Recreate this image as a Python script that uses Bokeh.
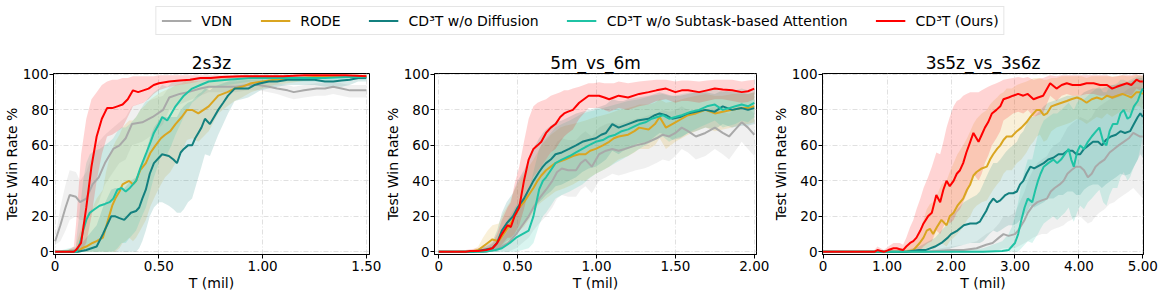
from bokeh.plotting import figure
from bokeh.layouts import column, row
from bokeh.models import Range1d, FixedTicker, Legend, LegendItem, CustomJSTickFormatter
from bokeh.embed import file_html
from bokeh.resources import INLINE

FONT = "DejaVu Sans"
SERIES = ["VDN", "RODE", "CD³T w/o Diffusion", "CD³T w/o Subtask-based Attention", "CD³T (Ours)"]
COLORS = ["#a9a9a9", "#daa520", "#13807f", "#1fc3a5", "#ff0000"]
TITLES = ["2s3z", "5m_vs_6m", "3s5z_vs_3s6z"]
Y_TICKS = [0, 20, 40, 60, 80, 100]
X_TICKS_2s3z = [0, 0.5, 1.0, 1.5]
X_TICKS_5m = [0, 0.5, 1.0, 1.5, 2.0]
X_TICKS_3s5z = [0, 1, 2, 3, 4, 5]

# rows: (T in mil, mean win rate, lower band, upper band)
vdn_2s3z = [(0, 6, 4, 8), (0.025, 15, 6, 25), (0.05, 25, 12, 38), (0.07, 32, 18, 46), (0.1, 31, 20, 45),
            (0.12, 28, 18, 40), (0.15, 30, 18, 45), (0.18, 38, 22, 55), (0.21, 42, 28, 62), (0.24, 50, 38, 66),
            (0.28, 58, 45, 70), (0.31, 60, 50, 73), (0.34, 64, 52, 76), (0.37, 72, 60, 82), (0.42, 73, 62, 84),
            (0.47, 76, 66, 86), (0.52, 80, 72, 88), (0.55, 87, 80, 93), (0.6, 89, 83, 94), (0.64, 90, 85, 95),
            (0.7, 92, 88, 96), (0.74, 93, 90, 96), (0.8, 93, 90, 96), (0.87, 93, 90, 96), (0.93, 94, 91, 97),
            (0.98, 94, 91, 97), (1.03, 93, 90, 96), (1.07, 92, 89, 95), (1.12, 91, 87, 94), (1.15, 90, 86, 93),
            (1.2, 91, 87, 94), (1.26, 92, 88, 95), (1.3, 92, 88, 95), (1.34, 93, 89, 96), (1.38, 92, 88, 95),
            (1.42, 91, 87, 94), (1.46, 91, 87, 94), (1.5, 91, 87, 94)]
rode_2s3z = [(0, 0, 0, 0), (0.1, 0, 0, 2), (0.103, 0, 0, 5), (0.13, 2, 0, 15), (0.15, 3, 0, 20), (0.18, 5, 0, 25),
             (0.2, 6, 0, 30), (0.23, 8, 0, 35), (0.245, 14, 0, 45), (0.26, 20, 0, 52), (0.275, 26, 0, 58),
             (0.29, 30, 0, 62), (0.31, 34, 2, 66), (0.325, 38, 5, 70), (0.34, 39, 6, 72), (0.357, 40, 8, 74),
             (0.375, 38, 6, 74), (0.39, 40, 8, 76), (0.41, 46, 12, 80), (0.437, 50, 18, 83), (0.46, 56, 26, 86),
             (0.484, 60, 32, 88), (0.51, 64, 38, 90), (0.53, 66, 42, 91), (0.555, 68, 45, 92), (0.58, 72, 50, 94),
             (0.61, 76, 57, 95), (0.635, 80, 63, 97), (0.66, 80, 64, 97), (0.69, 78, 62, 96), (0.74, 82, 68, 97),
             (0.786, 88, 78, 98), (0.83, 90, 82, 98.5), (0.865, 92, 85, 99), (0.9, 93, 87, 99), (0.944, 95, 90, 99.5),
             (1.0, 96, 92, 99.5), (1.056, 97, 94, 99.5), (1.12, 97.5, 95, 99.5), (1.18, 98, 96, 99.5),
             (1.3, 99, 98, 100), (1.4, 99, 98, 100), (1.5, 99, 98, 100)]
nodiff_2s3z = [(0, 0, 0, 0), (0.11, 0, 0, 2), (0.15, 1, 0, 8), (0.2, 3, 0, 15), (0.23, 10, 0, 25), (0.25, 15, 0, 30),
               (0.27, 20, 0, 35), (0.29, 20, 0, 36), (0.31, 19, 0, 36), (0.333, 18, 0, 36), (0.365, 22, 0, 40),
               (0.39, 23, 0, 42), (0.405, 25, 2, 45), (0.42, 30, 6, 50), (0.437, 35, 12, 56), (0.456, 44, 20, 64),
               (0.476, 50, 25, 70), (0.5, 53, 28, 74), (0.516, 55, 28, 76), (0.548, 54, 26, 76), (0.57, 52, 24, 76),
               (0.587, 50, 22, 76), (0.605, 56, 22, 80), (0.62, 58, 24, 82), (0.64, 60, 28, 84), (0.66, 60, 30, 85),
               (0.675, 64, 36, 87), (0.69, 67, 42, 89), (0.705, 70, 48, 90), (0.722, 75, 55, 92), (0.746, 72, 54, 91),
               (0.766, 76, 60, 93), (0.786, 80, 66, 94), (0.81, 84, 72, 95), (0.833, 88, 78, 96), (0.865, 92, 85, 97),
               (0.9, 92, 86, 97), (0.93, 92, 87, 97), (0.96, 94, 89, 98), (0.99, 95, 91, 98), (1.03, 96, 92, 98.5),
               (1.07, 96, 93, 98.5), (1.12, 97, 94, 99), (1.18, 97, 94, 99), (1.25, 97, 94, 99), (1.3, 96, 93, 99),
               (1.34, 96, 93, 99), (1.38, 96.5, 93, 99), (1.42, 97, 94, 99), (1.46, 98, 96, 99.5), (1.5, 98, 96, 99.5)]
noattn_2s3z = [(0, 0, 0, 0), (0.1, 0, 0, 3), (0.103, 0, 0, 8), (0.12, 5, 0, 25), (0.135, 12, 0, 40), (0.15, 18, 0, 50),
               (0.167, 22, 0, 55), (0.19, 24, 0, 57), (0.214, 26, 0, 58), (0.24, 27, 0, 60), (0.262, 28, 0, 62),
               (0.28, 30, 0, 64), (0.3, 35, 2, 68), (0.32, 36, 5, 70), (0.34, 34, 5, 70), (0.36, 36, 8, 72),
               (0.39, 40, 12, 76), (0.41, 47, 18, 80), (0.437, 55, 25, 85), (0.46, 62, 35, 88), (0.476, 67, 42, 90),
               (0.5, 72, 50, 92), (0.516, 76, 56, 94), (0.54, 74, 55, 93), (0.56, 78, 60, 95), (0.58, 82, 66, 96),
               (0.62, 88, 76, 97), (0.66, 92, 84, 98), (0.7, 94, 88, 98.5), (0.74, 96, 92, 99), (0.83, 97, 94, 99),
               (0.944, 98, 96, 99.5), (1.05, 98, 96, 99.5), (1.18, 98, 96, 99.5), (1.3, 98, 96, 99.5),
               (1.4, 98.5, 97, 99.5), (1.5, 98.5, 97, 99.5)]
ours_2s3z = [(0, 0, 0, 0), (0.05, 0, 0, 0), (0.09, 0, 0, 3), (0.1, 1, 0, 15), (0.125, 5, 0, 55), (0.15, 25, 5, 75),
             (0.175, 48, 20, 86), (0.2, 65, 40, 90), (0.225, 75, 55, 94), (0.25, 81, 65, 96), (0.275, 81, 66, 97),
             (0.3, 82, 68, 97), (0.325, 83, 70, 98), (0.35, 86, 76, 98), (0.375, 91, 82, 99), (0.4, 90, 83, 99),
             (0.425, 91, 84, 99), (0.45, 92, 86, 99), (0.475, 94, 89, 99), (0.5, 95, 91, 99.5), (0.55, 96, 93, 99.5),
             (0.6, 96.5, 94, 99.5), (0.65, 97, 95, 99.5), (0.7, 98, 96, 99.5), (0.75, 98, 96.5, 99.5),
             (0.8, 98.5, 97, 99.5), (0.9, 99, 98, 99.8), (1.0, 99, 98.2, 99.8), (1.1, 99, 98.2, 99.8),
             (1.2, 99.5, 99, 100), (1.3, 99.5, 99, 100), (1.4, 99.5, 99, 100), (1.5, 99, 98, 100)]

vdn_5m = [(0, 0, 0, 0), (0.3, 0, 0, 0.5), (0.38, 2, 0, 5), (0.44, 5, 0, 12), (0.49, 10, 2, 20), (0.53, 15, 5, 28),
          (0.57, 20, 8, 35), (0.6, 25, 12, 40), (0.636, 30, 16, 46), (0.68, 35, 20, 52), (0.72, 40, 25, 57),
          (0.75, 45, 30, 62), (0.78, 47, 32, 64), (0.82, 46, 31, 63), (0.87, 46, 31, 63), (0.9, 50, 35, 66),
          (0.93, 52, 37, 68), (0.97, 48, 33, 65), (1.016, 55, 40, 70), (1.06, 57, 42, 72), (1.1, 58, 44, 73),
          (1.14, 57, 43, 72), (1.18, 58, 44, 73), (1.25, 60, 46, 75), (1.3, 61, 47, 76), (1.33, 62, 48, 77),
          (1.38, 64, 50, 78), (1.42, 66, 52, 80), (1.46, 65, 51, 79), (1.5, 67, 54, 80), (1.54, 70, 58, 82),
          (1.58, 68, 56, 80), (1.63, 65, 52, 78), (1.69, 67, 54, 80), (1.75, 70, 58, 82), (1.8, 67, 55, 79),
          (1.84, 65, 52, 78), (1.88, 69, 57, 81), (1.92, 73, 62, 84), (1.96, 70, 58, 81), (2.0, 66, 54, 78)]
rode_5m = [(0, 0, 0, 0), (0.2, 0, 0, 0.5), (0.25, 1, 0, 3), (0.28, 3, 0, 8), (0.31, 5, 0, 12), (0.34, 7, 1, 15),
           (0.38, 6, 1, 16), (0.41, 10, 2, 22), (0.45, 15, 5, 28), (0.48, 20, 8, 35), (0.51, 25, 12, 40),
           (0.54, 28, 14, 44), (0.57, 32, 18, 48), (0.6, 36, 22, 52), (0.626, 40, 26, 56), (0.65, 43, 28, 60),
           (0.68, 46, 30, 63), (0.71, 48, 32, 66), (0.74, 50, 34, 68), (0.77, 51, 35, 70), (0.8, 52, 36, 71),
           (0.85, 54, 38, 72), (0.89, 55, 40, 73), (0.93, 55, 40, 74), (0.96, 57, 42, 75), (0.995, 58, 44, 76),
           (1.04, 60, 46, 77), (1.08, 62, 48, 78), (1.11, 64, 50, 79), (1.14, 65, 52, 80), (1.2, 66, 54, 81),
           (1.24, 68, 56, 82), (1.27, 70, 58, 83), (1.33, 69, 58, 83), (1.37, 72, 60, 84), (1.4, 76, 64, 86),
           (1.44, 70, 58, 84), (1.5, 73, 62, 85), (1.54, 75, 64, 86), (1.58, 77, 66, 87), (1.63, 78, 68, 88),
           (1.69, 80, 70, 89), (1.75, 78, 68, 88), (1.8, 79, 69, 88), (1.86, 80, 70, 89), (1.92, 81, 72, 89),
           (1.96, 81, 72, 89), (2.0, 82, 73, 90)]
nodiff_5m = [(0, 0, 0, 0), (0.22, 0, 0, 0.5), (0.28, 1, 0, 3), (0.34, 2, 0, 6), (0.37, 5, 0, 12), (0.4, 12, 3, 22),
             (0.43, 16, 6, 28), (0.47, 20, 8, 33), (0.5, 25, 12, 40), (0.54, 30, 16, 46), (0.57, 35, 20, 52),
             (0.6, 40, 24, 58), (0.636, 45, 28, 64), (0.66, 48, 30, 67), (0.68, 50, 32, 69), (0.71, 52, 34, 71),
             (0.74, 55, 37, 73), (0.78, 56, 38, 74), (0.826, 58, 40, 76), (0.87, 60, 42, 78), (0.91, 62, 45, 79),
             (0.95, 63, 47, 80), (0.995, 64, 48, 81), (1.03, 66, 50, 82), (1.06, 67, 52, 83), (1.1, 72, 57, 86),
             (1.14, 70, 55, 85), (1.17, 71, 57, 85), (1.2, 72, 58, 86), (1.26, 74, 61, 87), (1.33, 75, 62, 88),
             (1.37, 77, 65, 89), (1.4, 78, 67, 90), (1.44, 77, 66, 89), (1.48, 75, 63, 88), (1.53, 76, 64, 88),
             (1.58, 78, 67, 89), (1.63, 79, 68, 90), (1.69, 80, 70, 90), (1.75, 79, 69, 89), (1.8, 82, 72, 91),
             (1.86, 80, 70, 90), (1.92, 81, 71, 90), (1.96, 80, 71, 89), (2.0, 81, 72, 90)]
noattn_5m = [(0, 0, 0, 0), (0.28, 0, 0, 1), (0.32, 0.5, 0, 3), (0.36, 1, 0, 6), (0.4, 2, 0, 12), (0.45, 5, 0, 20),
             (0.49, 8, 0, 26), (0.53, 10, 1, 30), (0.57, 12, 2, 34), (0.6, 20, 5, 45), (0.636, 35, 15, 58),
             (0.66, 40, 20, 62), (0.68, 42, 22, 64), (0.71, 46, 26, 67), (0.74, 50, 30, 70), (0.78, 52, 32, 72),
             (0.83, 54, 34, 74), (0.87, 56, 36, 76), (0.91, 58, 38, 78), (0.95, 60, 41, 79), (0.995, 62, 44, 80),
             (1.04, 63, 46, 81), (1.08, 65, 48, 82), (1.12, 66, 50, 83), (1.16, 68, 52, 84), (1.2, 69, 54, 85),
             (1.27, 72, 58, 86), (1.31, 73, 60, 87), (1.35, 75, 62, 88), (1.42, 77, 65, 89), (1.46, 75, 62, 88),
             (1.5, 76, 64, 88), (1.54, 77, 65, 89), (1.6, 79, 68, 90), (1.65, 80, 70, 90), (1.7, 82, 72, 91),
             (1.75, 83, 74, 92), (1.8, 80, 70, 90), (1.84, 81, 71, 91), (1.88, 82, 72, 91), (1.92, 83, 74, 92),
             (1.96, 82, 73, 91), (2.0, 84, 76, 92)]
ours_5m = [(0, 0, 0, 0), (0.1, 0, 0, 0.5), (0.17, 0, 0, 1), (0.2, 0.5, 0, 1.5), (0.25, 0.5, 0, 2), (0.3, 1, 0, 3),
           (0.34, 2, 0, 5), (0.37, 5, 1, 10), (0.4, 10, 4, 18), (0.436, 15, 8, 25), (0.457, 14, 8, 28),
           (0.48, 20, 10, 38), (0.51, 25, 15, 48), (0.54, 40, 24, 62), (0.57, 52, 35, 75), (0.6, 58, 42, 82),
           (0.626, 60, 45, 84), (0.65, 62, 48, 85), (0.68, 67, 52, 86), (0.71, 70, 56, 88), (0.74, 72, 58, 89),
           (0.77, 76, 62, 90), (0.795, 78, 65, 91), (0.82, 79, 67, 91), (0.85, 80, 69, 92), (0.89, 84, 75, 93),
           (0.92, 86, 78, 94), (0.95, 88, 81, 95), (0.98, 88, 81, 95), (1.016, 88, 81, 95.5), (1.05, 87, 80, 95),
           (1.08, 86, 79, 95), (1.11, 87, 80, 95), (1.14, 88, 81, 96), (1.2, 87, 80, 95), (1.27, 89, 82, 96),
           (1.33, 90, 83, 96.5), (1.38, 91, 85, 97), (1.44, 92, 86, 97), (1.5, 90, 84, 96), (1.54, 91, 85, 96.5),
           (1.58, 91, 85, 96.5), (1.65, 90, 84, 96), (1.7, 91, 85, 96.5), (1.75, 92, 86, 97), (1.8, 91.5, 86, 97),
           (1.86, 91, 85, 97), (1.92, 90, 84, 96), (1.96, 90.5, 84.5, 96.5), (2.0, 92, 86, 97)]

vdn_3s5z = [(0, 0, 0, 0), (1.6, 0, 0, 0.5), (2.0, 1, 0, 3), (2.2, 1, 0, 4), (2.4, 2, 0, 6), (2.55, 4, 0, 10),
            (2.65, 5, 0, 12), (2.75, 8, 1, 16), (2.82, 10, 2, 20), (2.9, 9, 2, 20), (3.0, 10, 2, 22),
            (3.05, 12, 3, 26), (3.1, 15, 4, 30), (3.15, 18, 5, 34), (3.2, 22, 6, 40), (3.28, 26, 8, 46),
            (3.35, 28, 9, 50), (3.42, 29, 10, 52), (3.5, 30, 10, 54), (3.56, 34, 12, 58), (3.62, 36, 13, 60),
            (3.7, 38, 14, 62), (3.76, 40, 15, 66), (3.82, 44, 17, 70), (3.88, 46, 18, 72), (3.95, 48, 20, 74),
            (4.02, 48, 20, 76), (4.08, 46, 18, 75), (4.14, 42, 16, 74), (4.2, 44, 17, 76), (4.26, 48, 20, 80),
            (4.32, 50, 22, 82), (4.4, 52, 24, 84), (4.48, 56, 27, 86), (4.55, 58, 28, 88), (4.62, 60, 30, 89),
            (4.7, 62, 32, 90), (4.78, 64, 34, 92), (4.85, 67, 36, 93), (4.9, 66, 34, 93), (4.95, 65, 32, 93),
            (5.0, 65, 30, 92)]
rode_3s5z = [(0, 0, 0, 0), (1.0, 0, 0, 0.5), (1.3, 0, 0, 2), (1.41, 1, 0, 6), (1.51, 5, 0, 12), (1.57, 8, 0, 18),
             (1.62, 12, 2, 24), (1.67, 13, 3, 27), (1.72, 10, 1, 28), (1.78, 14, 3, 32), (1.85, 18, 5, 38),
             (1.93, 15, 3, 40), (1.98, 20, 6, 45), (2.04, 22, 8, 50), (2.1, 26, 10, 55), (2.19, 30, 14, 60),
             (2.25, 35, 18, 64), (2.3, 38, 20, 68), (2.35, 43, 24, 72), (2.4, 45, 26, 75), (2.48, 47, 28, 78),
             (2.56, 48, 29, 80), (2.61, 52, 32, 83), (2.66, 55, 35, 85), (2.72, 58, 38, 87), (2.77, 60, 40, 89),
             (2.82, 63, 44, 90), (2.87, 65, 46, 92), (2.95, 65, 46, 92), (3.03, 68, 50, 94), (3.1, 70, 52, 95),
             (3.18, 73, 56, 96), (3.24, 76, 60, 97), (3.29, 78, 62, 98), (3.34, 80, 65, 98), (3.39, 80, 66, 98),
             (3.45, 77, 62, 97), (3.5, 78, 63, 97), (3.57, 82, 68, 98), (3.65, 83, 70, 98), (3.73, 84, 71, 99),
             (3.81, 85, 72, 99), (3.88, 86, 73, 99), (3.97, 87, 75, 99), (4.04, 86, 74, 99), (4.12, 84, 72, 98),
             (4.2, 86, 74, 99), (4.28, 87, 76, 99), (4.36, 86, 75, 99), (4.44, 88, 78, 99), (4.52, 87, 76, 99),
             (4.6, 88, 78, 99), (4.68, 89, 80, 99.5), (4.75, 88, 79, 99), (4.82, 87, 78, 99), (4.9, 90, 82, 99.5),
             (4.95, 90, 82, 99.5), (5.0, 89, 80, 99)]
nodiff_3s5z = [(0, 0, 0, 0), (1.0, 0, 0, 0), (1.3, 0, 0, 1), (1.5, 1, 0, 3), (1.6, 1, 0, 5), (1.75, 3, 0, 8),
               (1.85, 5, 0, 12), (1.95, 8, 1, 16), (2.0, 10, 2, 20), (2.1, 12, 3, 24), (2.2, 15, 4, 28),
               (2.3, 16, 5, 30), (2.4, 16, 5, 32), (2.45, 17, 5, 34), (2.5, 20, 6, 38), (2.55, 23, 8, 42),
               (2.6, 27, 10, 46), (2.66, 30, 12, 50), (2.72, 28, 11, 50), (2.77, 29, 12, 52), (2.85, 32, 14, 56),
               (2.9, 33, 15, 58), (2.97, 33, 15, 60), (3.03, 34, 16, 62), (3.08, 38, 18, 66), (3.13, 40, 20, 68),
               (3.18, 44, 22, 72), (3.24, 48, 26, 76), (3.3, 47, 25, 76), (3.35, 48, 26, 78), (3.4, 49, 27, 80),
               (3.45, 50, 28, 82), (3.52, 52, 30, 84), (3.6, 53, 30, 85), (3.68, 55, 32, 86), (3.75, 55, 32, 87),
               (3.82, 57, 34, 88), (3.9, 57, 34, 88), (3.96, 55, 32, 88), (4.02, 55, 32, 88), (4.08, 58, 35, 90),
               (4.15, 60, 37, 91), (4.22, 62, 38, 92), (4.3, 62, 38, 92), (4.36, 60, 36, 92), (4.42, 63, 38, 93),
               (4.5, 65, 40, 94), (4.58, 66, 42, 94), (4.65, 68, 44, 95), (4.72, 67, 43, 95), (4.8, 68, 44, 96),
               (4.86, 72, 48, 97), (4.92, 76, 52, 98), (4.96, 78, 55, 98), (5.0, 76, 53, 98)]
noattn_3s5z = [(0, 0, 0, 0), (2.0, 0, 0, 0.5), (2.5, 0, 0, 2), (2.8, 0.5, 0, 6), (2.9, 1, 0, 10), (2.95, 3, 0, 14),
               (3.0, 5, 0, 20), (3.05, 10, 0, 28), (3.1, 18, 2, 38), (3.15, 25, 4, 46), (3.2, 30, 6, 52),
               (3.27, 28, 5, 52), (3.32, 35, 8, 60), (3.36, 40, 10, 66), (3.4, 44, 13, 70), (3.45, 48, 16, 74),
               (3.52, 50, 18, 76), (3.6, 52, 20, 78), (3.66, 50, 18, 78), (3.72, 52, 20, 80), (3.78, 55, 22, 82),
               (3.84, 58, 25, 84), (3.88, 52, 20, 82), (3.92, 48, 17, 80), (3.97, 56, 22, 84), (4.02, 60, 26, 86),
               (4.08, 58, 24, 86), (4.14, 62, 28, 88), (4.2, 65, 30, 90), (4.27, 68, 33, 92), (4.32, 70, 35, 93),
               (4.38, 62, 28, 90), (4.43, 60, 26, 90), (4.48, 68, 32, 93), (4.53, 72, 36, 94), (4.6, 72, 36, 95),
               (4.65, 78, 42, 97), (4.7, 80, 45, 97), (4.76, 75, 40, 96), (4.8, 76, 42, 97), (4.86, 82, 48, 98),
               (4.92, 85, 52, 99), (4.97, 90, 60, 99), (5.0, 92, 65, 99.5)]
ours_3s5z = [(0, 0, 0, 0), (0.5, 0, 0, 0.5), (0.8, 0, 0, 1), (0.85, 1, 0, 3), (0.9, 0.5, 0, 2), (0.95, 0, 0, 1),
             (1.02, 1, 0, 3), (1.1, 2, 0, 5), (1.15, 2, 0, 5), (1.2, 1.5, 0, 5), (1.25, 1, 0, 4), (1.3, 3, 0, 8),
             (1.36, 5, 0, 14), (1.41, 6, 0, 18), (1.46, 8, 0, 24), (1.52, 12, 1, 30), (1.57, 16, 3, 36),
             (1.64, 20, 5, 42), (1.7, 22, 6, 48), (1.77, 32, 12, 56), (1.83, 28, 10, 55), (1.88, 35, 14, 62),
             (1.93, 40, 18, 70), (1.98, 37, 16, 76), (2.04, 40, 18, 82), (2.09, 44, 22, 85), (2.14, 46, 24, 86),
             (2.19, 50, 28, 88), (2.24, 56, 32, 89), (2.3, 62, 38, 90), (2.35, 67, 44, 90), (2.43, 62, 40, 90),
             (2.48, 66, 44, 91), (2.53, 70, 50, 92), (2.58, 73, 54, 93), (2.64, 78, 60, 94), (2.71, 80, 64, 95),
             (2.77, 82, 68, 96), (2.82, 86, 74, 97), (2.9, 87, 76, 97.5), (2.97, 88, 78, 98), (3.05, 89, 79, 98.5),
             (3.13, 88, 78, 98), (3.2, 89, 80, 98.5), (3.29, 86, 76, 97), (3.36, 87, 77, 97.5), (3.44, 88, 78, 98),
             (3.55, 95, 88, 99.5), (3.65, 92, 85, 99), (3.73, 94, 88, 99.5), (3.81, 95, 89, 99.5),
             (3.9, 94, 88, 99.5), (4.02, 94, 88, 99.5), (4.12, 95, 89, 99.5), (4.23, 95, 89, 99.5),
             (4.33, 94, 88, 99.5), (4.44, 94, 88, 99.5), (4.52, 92, 86, 98.5), (4.59, 93, 87, 99),
             (4.67, 94, 88, 99.5), (4.75, 95, 89, 99.5), (4.82, 94, 88, 99.5), (4.9, 97, 92, 100),
             (4.95, 96, 91, 99.5), (5.0, 96, 91, 99.5)]

# (title, series, x range, x ticks, frame width, left border, right border)
PANELS = [
    (TITLES[0], [vdn_2s3z, rode_2s3z, nodiff_2s3z, noattn_2s3z, ours_2s3z], (-0.008, 1.515), X_TICKS_2s3z, 316, 52, 12),
    (TITLES[1], [vdn_5m, rode_5m, nodiff_5m, noattn_5m, ours_5m], (-0.027, 2.014), X_TICKS_5m, 322, 52, 13),
    (TITLES[2], [vdn_3s5z, rode_3s5z, nodiff_3s5z, noattn_3s5z, ours_3s5z], (-0.01, 5.01), X_TICKS_3s5z, 321, 52, 17),
]


def make_panel(title, data, xr, xticks, fw, bl, br):
    p = figure(frame_width=fw, frame_height=181, output_backend="svg", toolbar_location=None,
               x_range=Range1d(*xr), y_range=Range1d(-1.5, 100.5),
               min_border_left=bl, min_border_right=br, min_border_top=37, min_border_bottom=42,
               background_fill_color="white", border_fill_color="white")
    for rows, c in zip(data, COLORS):
        xs = [r[0] for r in rows]
        lo = [r[2] for r in rows]
        hi = [r[3] for r in rows]
        p.varea(x=xs, y1=lo, y2=hi, fill_color=c, fill_alpha=0.17)
    for rows, c in zip(data, COLORS):
        xs = [r[0] for r in rows]
        ys = [r[1] for r in rows]
        p.line(x=xs, y=ys, line_color=c, line_width=2)
    p.title.text = title
    p.title.align = "center"
    p.title.text_font = FONT
    p.title.text_font_size = "17px"
    p.title.text_font_style = "normal"
    p.title.text_color = "black"
    p.title.standoff = 1
    p.xaxis.ticker = FixedTicker(ticks=xticks)
    p.yaxis.ticker = FixedTicker(ticks=Y_TICKS)
    p.xaxis.formatter = CustomJSTickFormatter(code="return tick == 0 ? '0' : tick.toFixed(2);")
    p.xaxis.axis_label = "T (mil)"
    p.yaxis.axis_label = "Test Win Rate %"
    for ax in (p.xaxis[0], p.yaxis[0]):
        ax.axis_line_color = "black"
        ax.major_tick_line_color = "black"
        ax.major_tick_in = 0
        ax.major_tick_out = 4
        ax.minor_tick_line_color = None
        ax.major_label_text_font = FONT
        ax.major_label_text_font_size = "13.5px"
        ax.major_label_text_color = "black"
        ax.axis_label_text_font = FONT
        ax.axis_label_text_font_size = "14px"
        ax.axis_label_text_font_style = "normal"
        ax.axis_label_text_color = "black"
    p.xaxis.major_label_standoff = 2
    p.xaxis.axis_label_standoff = 1
    p.yaxis.major_label_standoff = 1
    p.yaxis.axis_label_standoff = 0
    p.grid.grid_line_color = "#d8d8d8"
    p.grid.grid_line_dash = "5 2 1 2"
    p.grid.grid_line_width = 0.8
    p.outline_line_color = "black"
    p.outline_line_alpha = 1.0
    p.outline_line_width = 1
    return p


panels = [make_panel(*cfg) for cfg in PANELS]

lf = figure(width=1160, height=36, output_backend="svg", toolbar_location=None,
            x_range=Range1d(0, 1), y_range=Range1d(0, 1), x_axis_location=None, y_axis_location=None,
            min_border=0, border_fill_color="white")
lf.grid.visible = False
lf.outline_line_color = None
items = []
for name, c in zip(SERIES, COLORS):
    # legend-only renderers: points lie outside the visible range
    r = lf.line(x=[-5, -4], y=[-5, -4], line_color=c, line_width=2)
    items.append(LegendItem(label=name, renderers=[r]))
leg = Legend(items=items, orientation="horizontal", location="top_center", margin=6, padding=5,
             spacing=28, glyph_width=30, glyph_height=17, label_standoff=10, label_height=17,
             label_text_font=FONT, label_text_font_size="14px", label_text_color="black",
             border_line_color="#cccccc", border_line_width=1, background_fill_alpha=1.0)
lf.add_layout(leg, "center")

layout = column(lf, row(*panels))
open("out.html", "w").write(file_html(layout, INLINE))
